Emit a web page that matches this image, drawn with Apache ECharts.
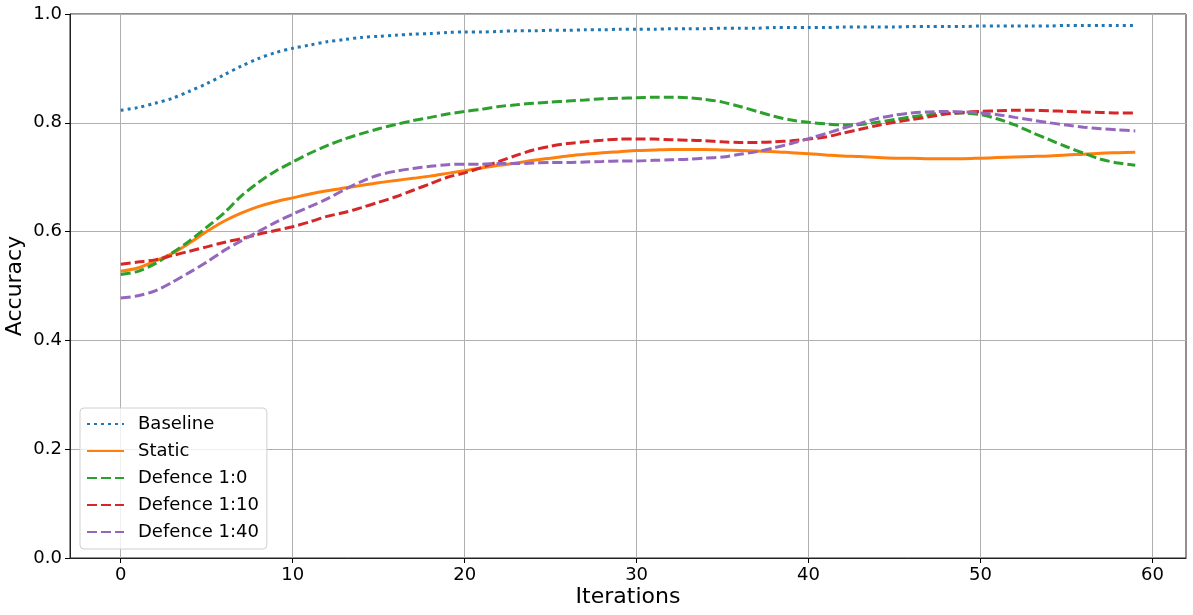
<!DOCTYPE html>
<html>
<head>
<meta charset="utf-8">
<script src="https://cdn.jsdelivr.net/npm/echarts@6/dist/echarts.min.js"></script>
<style>html,body{margin:0;padding:0;background:#fff;}#c{width:1193px;height:615px;}</style>
</head>
<body>
<div id="c"></div>
<script>
const iterations = Array.from({length: 60}, (_, i) => i);
const xTicks = [0, 10, 20, 30, 40, 50, 60];
const yTicks = [0, 0.2, 0.4, 0.6, 0.8, 1.0];
const seriesNames = ['Baseline', 'Static', 'Defence 1:0', 'Defence 1:10', 'Defence 1:40'];

const baseline = [
  0.823, 0.828, 0.836, 0.845, 0.858, 0.872, 0.888, 0.904, 0.918, 0.929,
  0.937, 0.943, 0.949, 0.953, 0.957, 0.959, 0.961, 0.963, 0.964, 0.966,
  0.967, 0.967, 0.968, 0.969, 0.969, 0.970, 0.970, 0.971, 0.971, 0.972,
  0.972, 0.972, 0.973, 0.973, 0.973, 0.974, 0.974, 0.974, 0.975, 0.975,
  0.975, 0.975, 0.976, 0.976, 0.976, 0.976, 0.977, 0.977, 0.977, 0.977,
  0.978, 0.978, 0.978, 0.978, 0.978, 0.979, 0.979, 0.979, 0.979, 0.979
];
const staticAcc = [
  0.527, 0.533, 0.546, 0.560, 0.579, 0.600, 0.619, 0.634, 0.646, 0.655,
  0.662, 0.669, 0.675, 0.680, 0.685, 0.690, 0.694, 0.698, 0.702, 0.707,
  0.712, 0.717, 0.722, 0.726, 0.731, 0.735, 0.739, 0.742, 0.745, 0.747,
  0.749, 0.750, 0.751, 0.751, 0.751, 0.750, 0.749, 0.748, 0.747, 0.745,
  0.743, 0.741, 0.739, 0.738, 0.736, 0.735, 0.735, 0.734, 0.734, 0.734,
  0.735, 0.736, 0.737, 0.738, 0.739, 0.741, 0.742, 0.744, 0.745, 0.746
];
const defence1to0 = [
  0.521, 0.527, 0.541, 0.561, 0.583, 0.608, 0.634, 0.665, 0.690, 0.711,
  0.728, 0.744, 0.758, 0.770, 0.780, 0.789, 0.797, 0.804, 0.810, 0.816,
  0.821, 0.825, 0.830, 0.833, 0.836, 0.838, 0.840, 0.842, 0.844, 0.845,
  0.846, 0.847, 0.847, 0.846, 0.843, 0.838, 0.830, 0.821, 0.812, 0.805,
  0.801, 0.798, 0.796, 0.797, 0.801, 0.806, 0.811, 0.815, 0.818, 0.818,
  0.815, 0.807, 0.796, 0.782, 0.769, 0.756, 0.744, 0.733, 0.726, 0.722
];
const defence1to10 = [
  0.540, 0.544, 0.548, 0.556, 0.564, 0.572, 0.580, 0.587, 0.595, 0.602,
  0.609, 0.618, 0.628, 0.635, 0.644, 0.654, 0.664, 0.676, 0.688, 0.700,
  0.708, 0.718, 0.729, 0.740, 0.750, 0.757, 0.762, 0.765, 0.768, 0.770,
  0.770, 0.770, 0.769, 0.768, 0.767, 0.765, 0.764, 0.764, 0.765, 0.767,
  0.770, 0.774, 0.781, 0.788, 0.795, 0.801, 0.806, 0.811, 0.816, 0.819,
  0.821, 0.822, 0.823, 0.823, 0.822, 0.821, 0.820, 0.819, 0.818, 0.818
];
const defence1to40 = [
  0.478, 0.482, 0.491, 0.507, 0.525, 0.544, 0.565, 0.583, 0.600, 0.617,
  0.632, 0.646, 0.660, 0.677, 0.692, 0.704, 0.711, 0.716, 0.720, 0.723,
  0.724, 0.724, 0.725, 0.725, 0.726, 0.727, 0.727, 0.728, 0.729, 0.730,
  0.730, 0.731, 0.732, 0.733, 0.735, 0.737, 0.742, 0.747, 0.754, 0.762,
  0.771, 0.780, 0.790, 0.799, 0.808, 0.814, 0.818, 0.820, 0.821, 0.820,
  0.818, 0.815, 0.810, 0.805, 0.800, 0.796, 0.792, 0.789, 0.787, 0.785
];

const colors = ['#1f77b4', '#ff7f0e', '#2ca02c', '#d62728', '#9467bd'];
const dashes = [[3, 4], 'solid', [10, 4], [10, 4], [10, 4]];
const allData = [baseline, staticAcc, defence1to0, defence1to10, defence1to40];
const FONT = 'DejaVu Sans';

const chart = echarts.init(document.getElementById('c'), null, {renderer: 'canvas'});
chart.setOption({
  animation: false,
  backgroundColor: '#fff',
  grid: {left: 70, right: 7, top: 14, bottom: 57, containLabel: false, outerBoundsMode: 'none',
         show: true, borderColor: '#222', borderWidth: 1, backgroundColor: 'transparent'},
  xAxis: {
    type: 'value', min: -2.95, max: 61.95,
    name: 'Iterations', nameLocation: 'middle', nameGap: 28, nameMoveOverlap: false,
    nameTextStyle: {fontFamily: FONT, fontSize: 22, color: '#000'},
    axisLine: {show: true, onZero: false, lineStyle: {color: '#222', width: 1}},
    axisTick: {show: true, inside: false, length: 5, lineStyle: {color: '#000', width: 1}, customValues: xTicks},
    axisLabel: {fontFamily: FONT, fontSize: 18, color: '#000', margin: 8, customValues: xTicks},
    splitLine: {show: true, lineStyle: {color: '#b0b0b0', width: 1}}
  },
  yAxis: {
    type: 'value', min: 0, max: 1, interval: 0.2,
    name: 'Accuracy', nameLocation: 'middle', nameGap: 44, nameMoveOverlap: false,
    nameTextStyle: {fontFamily: FONT, fontSize: 22, color: '#000'},
    axisLine: {show: true, onZero: false, lineStyle: {color: '#222', width: 1}},
    axisTick: {show: true, inside: false, length: 5, lineStyle: {color: '#000', width: 1}},
    axisLabel: {fontFamily: FONT, fontSize: 18, color: '#000', margin: 8, formatter: v => v.toFixed(1)},
    splitLine: {show: true, lineStyle: {color: '#b0b0b0', width: 1}}
  },
  legend: {
    orient: 'vertical', left: 80, top: 408,
    padding: [7, 8, 8, 6], itemGap: 9, itemWidth: 37, itemHeight: 14,
    backgroundColor: 'rgba(255,255,255,0.8)', borderColor: '#d0d0d0', borderWidth: 1, borderRadius: 4,
    itemStyle: {opacity: 0},
    textStyle: {fontFamily: FONT, fontSize: 18, color: '#000', padding: [0, 0, 0, 9]},
    data: seriesNames
  },
  series: seriesNames.map((n, k) => ({
    name: n, type: 'line', showSymbol: false, symbol: 'none', smooth: 0.3,
    data: iterations.map((x, i) => [x, allData[k][i]]),
    lineStyle: {color: colors[k], width: 3, type: dashes[k], cap: 'butt'},
    itemStyle: {color: colors[k]},
    z: 3 + k
  }))
});
</script>
</body>
</html>
